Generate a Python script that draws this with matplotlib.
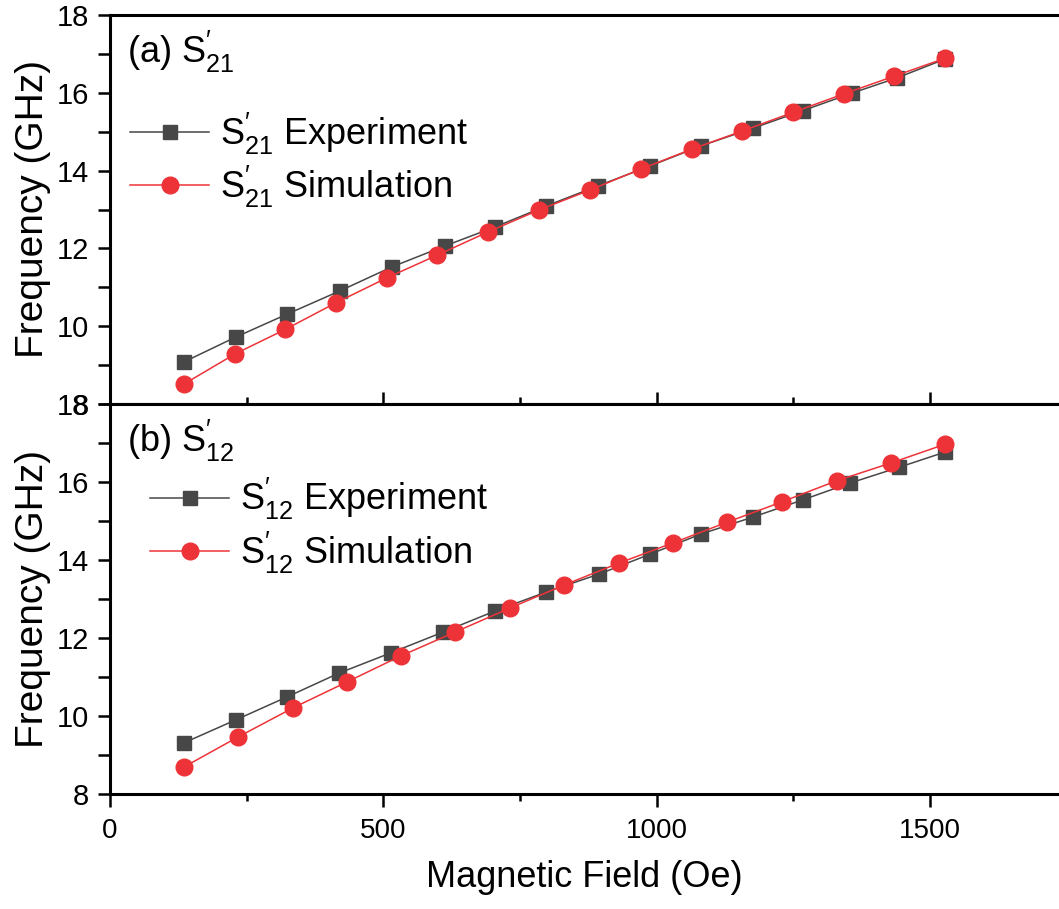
import numpy as np
import matplotlib.pyplot as plt
from matplotlib.ticker import MultipleLocator

plt.rcParams['font.family'] = ['Liberation Sans', 'DejaVu Sans']
plt.rcParams['mathtext.fontset'] = 'custom'
plt.rcParams['mathtext.rm'] = 'Liberation Sans'
plt.rcParams['mathtext.it'] = 'Liberation Sans'
plt.rcParams['mathtext.default'] = 'regular'

# (a) S'21
field_a_exp = [135, 230, 324, 421, 515, 612, 704, 798, 893, 988, 1082, 1176, 1267, 1357, 1439, 1528]
freq_a_exp = [9.08, 9.72, 10.31, 10.91, 11.52, 12.06, 12.55, 13.09, 13.61, 14.12, 14.64, 15.09, 15.54, 15.99, 16.38, 16.87]
field_a_sim = [135, 229, 321, 413, 506, 599, 691, 785, 878, 971, 1064, 1157, 1250, 1342, 1435, 1528]
freq_a_sim = [8.51, 9.29, 9.92, 10.60, 11.24, 11.83, 12.42, 12.99, 13.50, 14.04, 14.55, 15.02, 15.50, 15.97, 16.43, 16.89]

# (b) S'12
field_b_exp = [135, 230, 324, 419, 514, 609, 704, 798, 895, 988, 1082, 1176, 1267, 1353, 1444, 1528]
freq_b_exp = [9.31, 9.90, 10.49, 11.10, 11.62, 12.15, 12.69, 13.18, 13.64, 14.15, 14.67, 15.10, 15.54, 15.97, 16.38, 16.77]
field_b_sim = [135, 234, 335, 433, 532, 631, 732, 831, 931, 1030, 1129, 1229, 1329, 1429, 1528]
freq_b_sim = [8.69, 9.46, 10.21, 10.87, 11.54, 12.15, 12.77, 13.36, 13.92, 14.44, 14.97, 15.49, 16.03, 16.49, 16.97]

gray = '#474747'
red = '#ee3338'

fig = plt.figure(figsize=(10.59, 9.09), dpi=100)
W, H = 1059, 909
ax1 = fig.add_axes([110 / W, 1 - 404 / H, 1 - 110 / W, (404 - 15) / H])
ax2 = fig.add_axes([110 / W, 1 - 794 / H, 1 - 110 / W, (794 - 404) / H], sharex=ax1)

# ax, data, subscript, tag, legend x, legend y
panels = [
    (ax1, field_a_exp, freq_a_exp, field_a_sim, freq_a_sim, '21', '(a)', 0.021, 0.755),
    (ax2, field_b_exp, freq_b_exp, field_b_sim, freq_b_sim, '12', '(b)', 0.042, 0.815),
]

for ax, fx, fy, sx, sy, sub, tag, lx, ly in panels:
    ax.plot(fx, fy, color=gray, lw=1.1, marker='s', ms=10, mfc=gray, mec=gray,
            label=r"S$^{\prime}_{%s}$ Experiment" % sub)
    ax.plot(sx, sy, color=red, lw=1.1, marker='o', ms=12, mfc=red, mec=red,
            label=r"S$^{\prime}_{%s}$ Simulation" % sub)
    ax.set_ylim(8, 18)
    ax.set_xlim(0, 1736)
    ax.yaxis.set_major_locator(MultipleLocator(2))
    ax.yaxis.set_minor_locator(MultipleLocator(1))
    ax.xaxis.set_major_locator(MultipleLocator(500))
    ax.xaxis.set_minor_locator(MultipleLocator(250))
    ax.tick_params(axis='y', which='major', direction='out', length=9, width=1.8, labelsize=21, pad=6)
    ax.tick_params(axis='y', which='minor', direction='out', length=9, width=1.8)
    for s in ['left', 'top', 'bottom']:
        ax.spines[s].set_linewidth(2.2)
    ax.spines['right'].set_visible(False)
    ax.set_ylabel('Frequency (GHz)', fontsize=28, labelpad=4)
    ax.text(0.018, 0.905, tag + r" S$^{\prime}_{%s}$" % sub, transform=ax.transAxes,
            fontsize=26, va='center', ha='left')
    ax.legend(loc='upper left', bbox_to_anchor=(lx, ly), frameon=False, fontsize=26,
              handlelength=2.2, handletextpad=0.3, labelspacing=0.2,
              borderpad=0, borderaxespad=0)

ax1.tick_params(axis='x', which='major', direction='in', length=9, width=1.8, labelbottom=False)
ax1.tick_params(axis='x', which='minor', direction='in', length=5, width=1.8)
ax2.tick_params(axis='x', which='major', direction='out', length=9, width=1.8, labelsize=20, pad=8)
ax2.tick_params(axis='x', which='minor', direction='out', length=5, width=1.8)
ax2.set_xlabel('Magnetic Field (Oe)', fontsize=26, labelpad=12)

fig.savefig('out.png', dpi=100)
